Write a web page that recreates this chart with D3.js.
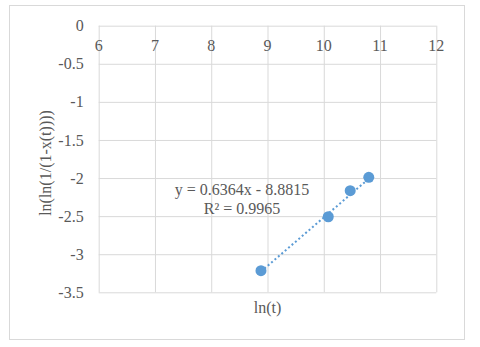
<!DOCTYPE html>
<html>
<head>
<meta charset="utf-8">
<style>
    body { margin: 0; background: #fff; }
    svg { display: block; }
    text { font-family: "Liberation Serif", "Times New Roman", serif; fill: #595959; font-size: 16px; }
    .grid line { stroke: #d9d9d9; stroke-width: 1; }
    .grid .domain { display: none; }
</style>
</head>
<body>
<svg width="480" height="347"></svg>
<script src="https://d3js.org/d3.v7.min.js"></script>
<script>
// data
let lnT = [8.884, 10.08, 10.47, 10.80];
let lnLn = [-3.216, -2.508, -2.166, -1.990];
let xTicks = [6, 7, 8, 9, 10, 11, 12];
let yTicks = [0, -0.5, -1, -1.5, -2, -2.5, -3, -3.5];
let slope = 0.6364;
let intercept = -8.8815;
let eqLabel = "y = 0.6364x - 8.8815";
let r2Label = "R² = 0.9965";

let svg = d3.select("svg");
let margin = { top: 25.7, right: 43.7, bottom: 54.7, left: 98.7 };
let width = 480, height = 347;

// outer chart border
svg.append("rect")
    .attr("x", 9.5).attr("y", 5.5)
    .attr("width", 455).attr("height", 334)
    .attr("fill", "#fff")
    .attr("stroke", "#d9d9d9");

let x = d3.scaleLinear().domain([6, 12]).range([margin.left, width - margin.right]);
let y = d3.scaleLinear().domain([-3.5, 0]).range([height - margin.bottom, margin.top]);

// vertical gridlines
svg.append("g").attr("class", "grid")
    .attr("transform", `translate(0,${margin.top})`)
    .call(d3.axisBottom(x).tickValues(xTicks).tickSize(y(-3.5) - y(0)).tickFormat(""));

// horizontal gridlines
svg.append("g").attr("class", "grid")
    .attr("transform", `translate(${margin.left},0)`)
    .call(d3.axisRight(y).tickValues(yTicks).tickSize(x(12) - x(6)).tickFormat(""));

// x tick labels sitting just below the 0 line
svg.append("g").selectAll("text")
    .data(xTicks)
    .join("text")
    .attr("x", d => x(d))
    .attr("y", y(0) + 25.5)
    .attr("text-anchor", "middle")
    .text(d => d);

// y tick labels
svg.append("g").selectAll("text")
    .data(yTicks)
    .join("text")
    .attr("x", margin.left - 15)
    .attr("y", d => y(d))
    .attr("dy", "0.35em")
    .attr("text-anchor", "end")
    .text(d => d);

// trendline (dotted) over data range
let ext = d3.extent(lnT);
svg.append("line")
    .attr("x1", x(ext[0])).attr("y1", y(slope * ext[0] + intercept))
    .attr("x2", x(ext[1])).attr("y2", y(slope * ext[1] + intercept))
    .attr("stroke", "#5b9bd5")
    .attr("stroke-width", 2)
    .attr("stroke-dasharray", "2,2.5");

// points
svg.append("g").selectAll("circle")
    .data(lnT)
    .join("circle")
    .attr("cx", d => x(d))
    .attr("cy", (d, i) => y(lnLn[i]))
    .attr("r", 5.5)
    .attr("fill", "#5b9bd5");

// equation
svg.append("text")
    .attr("x", 242).attr("y", 194.5)
    .attr("text-anchor", "middle")
    .text(eqLabel);
svg.append("text")
    .attr("x", 242).attr("y", 213.5)
    .attr("text-anchor", "middle")
    .text(r2Label);

// axis titles
svg.append("text")
    .attr("x", (x(6) + x(12)) / 2)
    .attr("y", 313)
    .attr("text-anchor", "middle")
    .text("ln(t)");

svg.append("text")
    .attr("transform", `translate(51,${(y(0) + y(-3.5)) / 2 + 4}) rotate(-90)`)
    .attr("text-anchor", "middle")
    .text("ln(ln(1/(1-x(t))))");
</script>
</body>
</html>
